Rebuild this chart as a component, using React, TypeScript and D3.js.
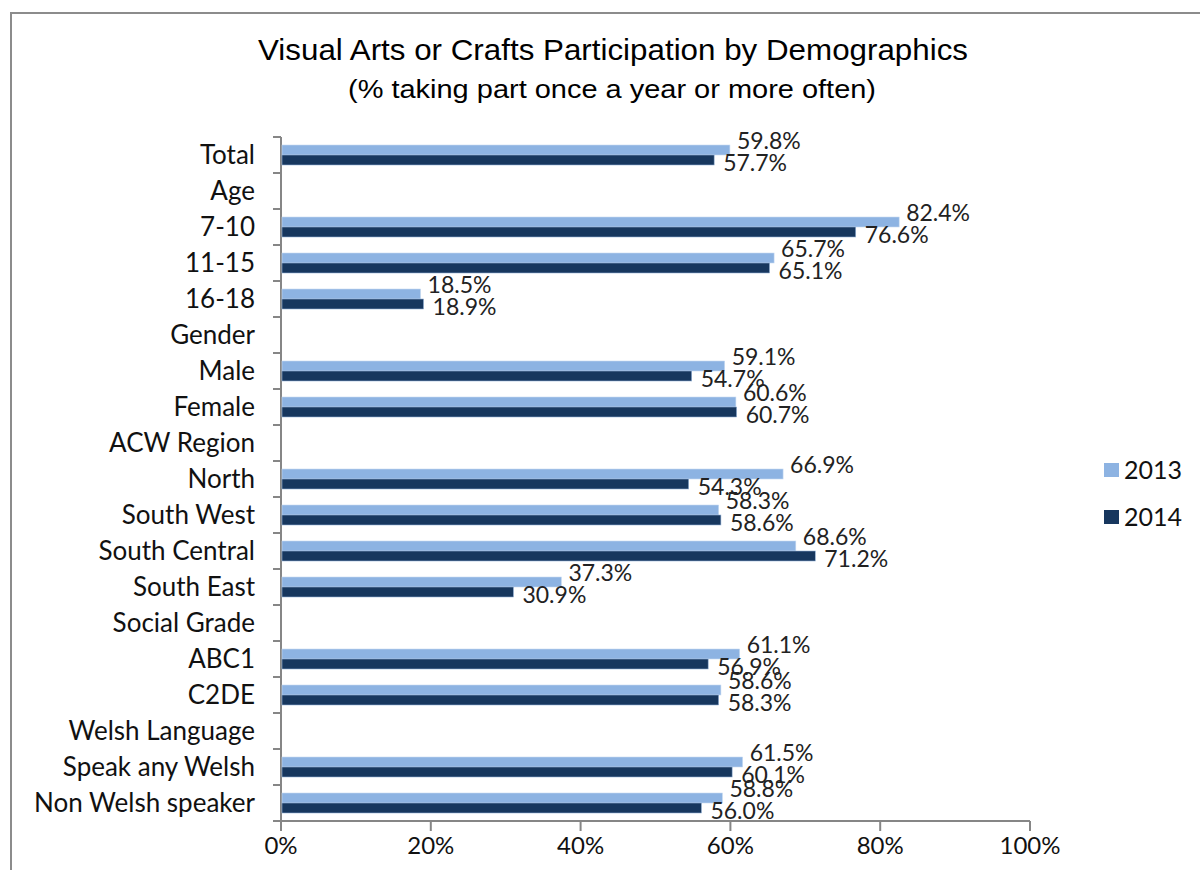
import React, { useEffect, useRef } from "react";
import * as d3 from "d3";

const categories = [
  "Total", "Age", "7-10", "11-15", "16-18", "Gender", "Male", "Female",
  "ACW Region", "North", "South West", "South Central", "South East",
  "Social Grade", "ABC1", "C2DE", "Welsh Language", "Speak any Welsh",
  "Non Welsh speaker",
];
// null = heading row with no bars
const values2013 = [
  59.8, null, 82.4, 65.7, 18.5, null, 59.1, 60.6, null, 66.9, 58.3, 68.6,
  37.3, null, 61.1, 58.6, null, 61.5, 58.8,
];
const values2014 = [
  57.7, null, 76.6, 65.1, 18.9, null, 54.7, 60.7, null, 54.3, 58.6, 71.2,
  30.9, null, 56.9, 58.3, null, 60.1, 56.0,
];
const seriesNames = ["2013", "2014"];
const seriesColors = ["#8db3e2", "#17375e"];
const xTicks = [0, 20, 40, 60, 80, 100];

const App: React.FC = () => {
  const svgRef = useRef<SVGSVGElement | null>(null);

  useEffect(() => {
    const svg = d3.select(svgRef.current);
    svg.selectAll("*").remove();

    const font = "Lato, 'Open Sans', sans-serif";
    const axisColor = "#868686";

    // chart frame
    svg.append("path")
      .attr("d", "M11,1000 L11,13 L1210,13")
      .attr("fill", "none")
      .attr("stroke", "#8c8c8c")
      .attr("stroke-width", 2);

    svg.append("text")
      .attr("x", 613).attr("y", 60)
      .attr("text-anchor", "middle")
      .attr("font-family", "'Liberation Sans Narrow', 'Liberation Sans', sans-serif")
      .attr("font-size", 29)
      .attr("textLength", 710)
      .attr("lengthAdjust", "spacingAndGlyphs")
      .text("Visual Arts or Crafts Participation by Demographics");
    svg.append("text")
      .attr("x", 612).attr("y", 98)
      .attr("text-anchor", "middle")
      .attr("font-family", "'Liberation Sans Narrow', 'Liberation Sans', sans-serif")
      .attr("font-size", 25)
      .attr("textLength", 528)
      .attr("lengthAdjust", "spacingAndGlyphs")
      .text("(% taking part once a year or more often)");

    const x = d3.scaleLinear().domain([0, 100]).range([281, 1030]);
    const y = d3.scaleBand().domain(categories).range([137, 821]);
    const inner = d3.scaleBand().domain(seriesNames).range([8, y.bandwidth() - 8]);

    // y axis
    const g = svg.append("g");
    g.append("line")
      .attr("x1", 281).attr("x2", 281).attr("y1", 137).attr("y2", 821)
      .attr("stroke", axisColor).attr("stroke-width", 2);
    d3.range(categories.length + 1).forEach((i) => {
      const yy = 137 + i * y.bandwidth();
      g.append("line")
        .attr("x1", 273).attr("x2", 281).attr("y1", yy).attr("y2", yy)
        .attr("stroke", axisColor).attr("stroke-width", 2);
    });
    categories.forEach((c) => {
      g.append("text")
        .attr("x", 255)
        .attr("y", (y(c) || 0) + y.bandwidth() / 2)
        .attr("dy", "0.36em")
        .attr("text-anchor", "end")
        .attr("font-family", font)
        .attr("font-size", 26)
        .attr("fill", "#111")
        .text(c);
    });

    // x axis
    g.append("line")
      .attr("x1", 281).attr("x2", 1030).attr("y1", 821).attr("y2", 821)
      .attr("stroke", axisColor).attr("stroke-width", 2);
    xTicks.forEach((t) => {
      g.append("line")
        .attr("x1", x(t)).attr("x2", x(t)).attr("y1", 821).attr("y2", 831)
        .attr("stroke", axisColor).attr("stroke-width", 2);
      g.append("text")
        .attr("x", x(t)).attr("y", 845)
        .attr("dy", "0.36em")
        .attr("text-anchor", "middle")
        .attr("font-family", font)
        .attr("font-size", 24)
        .attr("fill", "#111")
        .text(t + "%");
    });

    // bars + labels
    const series = [values2013, values2014];
    const labelDy = [-14, 8];
    const labelDx = [8, 10];
    series.forEach((vals, si) => {
      vals.forEach((v, i) => {
        if (v === null) return;
        const c = categories[i];
        const by = (y(c) || 0) + (inner(seriesNames[si]) || 0);
        svg.append("rect")
          .attr("x", x(0) + 1)
          .attr("y", by)
          .attr("width", x(v) - x(0))
          .attr("height", inner.bandwidth())
          .attr("fill", seriesColors[si])
          .attr("stroke", si === 0 ? "#c6d9f1" : "#95b3d7")
          .attr("stroke-width", 0.6);
      });
    });
    series.forEach((vals, si) => {
      vals.forEach((v, i) => {
        if (v === null) return;
        const c = categories[i];
        svg.append("text")
          .attr("x", x(v) + labelDx[si])
          .attr("y", (y(c) || 0) + y.bandwidth() / 2 + labelDy[si])
          .attr("dy", "0.36em")
          .attr("font-family", font)
          .attr("font-size", 23)
          .attr("fill", "#222")
          .text(v.toFixed(1) + "%");
      });
    });

    // legend
    seriesNames.forEach((s, i) => {
      const ly = 470 + i * 47;
      svg.append("rect")
        .attr("x", 1104).attr("y", ly - 7)
        .attr("width", 15).attr("height", 14)
        .attr("fill", seriesColors[i]);
      svg.append("text")
        .attr("x", 1124).attr("y", ly)
        .attr("dy", "0.36em")
        .attr("font-family", font)
        .attr("font-size", 25)
        .attr("fill", "#111")
        .text(s);
    });
  }, []);

  return (
    <svg
      ref={svgRef}
      width={1200}
      height={870}
      style={{ position: "absolute", left: 0, top: 0, background: "#fff" }}
    ></svg>
  );
};

export default App;
